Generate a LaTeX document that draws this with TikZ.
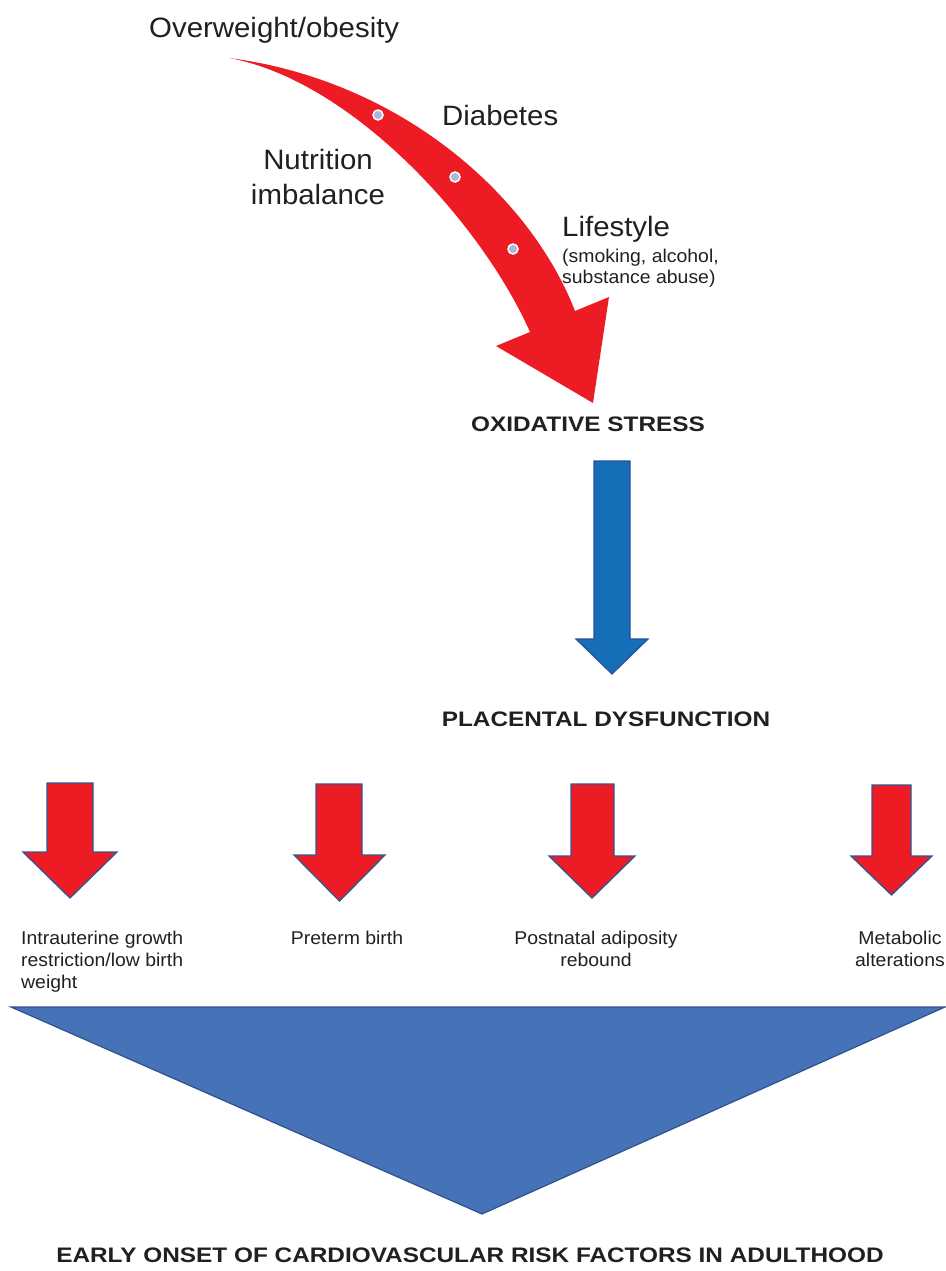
\documentclass[tikz,border=0pt]{standalone}
\usepackage{fontspec}
\setmainfont{Liberation Sans}
\newfontfamily\rfont[FakeStretch=1.05]{Liberation Sans}
\newfontfamily\hfont[FakeStretch=1.16]{Liberation Sans}
\definecolor{redc}{RGB}{237,28,36}
\definecolor{outl}{RGB}{47,85,151}
\definecolor{bluef}{RGB}{22,110,184}
\definecolor{bluel}{RGB}{40,80,150}
\definecolor{trif}{RGB}{70,114,184}
\definecolor{tril}{RGB}{47,82,143}
\definecolor{dotc}{RGB}{170,183,219}
\definecolor{txtc}{RGB}{35,31,32}
\begin{document}
\begin{tikzpicture}[x=1pt,y=-1pt,
  big/.style={inner sep=0pt, text=txtc, font=\rfont\fontsize{28}{35}\selectfont},
  mid/.style={inner sep=0pt, text=txtc, font=\rfont\fontsize{18.5}{20.5}\selectfont},
  small/.style={inner sep=0pt, text=txtc, font=\rfont\fontsize{18.5}{22.3}\selectfont},
  head/.style={inner sep=0pt, text=txtc, font=\hfont\bfseries\fontsize{21}{25}\selectfont},
  redarrow/.style={fill=redc, draw=outl, line width=1.3pt, line join=miter},
  dot/.style={fill=dotc, draw=white, line width=1.5pt}]
\useasboundingbox (0,0) rectangle (945,1271);
\newcommand\blockarr[7]{%
  \filldraw[redarrow] (#1,#3) -- (#2,#3) -- (#2,#4) -- (#6,#4) -- ({(#5+#6)/2},#7) -- (#5,#4) -- (#1,#4) -- cycle;}
% curved red arrow
\fill[redc] (229,58) .. controls (400,80) and (530,195) .. (575,311)
  -- (609,297) -- (593,403) -- (496,346) -- (530,332)
  .. controls (480,220) and (350,80) .. (229,58) -- cycle;
\filldraw[dot] (378,115) circle (5);
\filldraw[dot] (455,177) circle (5);
\filldraw[dot] (513,249) circle (5);
% texts top
\node[big, anchor=base west] (ow) at (149,38) {Overweight/obesity};
\node[big, anchor=base west] (db) at (442,125) {Diabetes};
\node[big, anchor=base, align=center] (ni) at (318,204) {Nutrition\\imbalance};
\node[big, anchor=base west] (ls) at (562,236) {Lifestyle};
\node[mid, anchor=base west, align=left] (lsd) at (562,283) {(smoking, alcohol,\\substance abuse)};
% headings
\node[head, anchor=base] (ox) at (588,431) {OXIDATIVE STRESS};
\filldraw[fill=bluef, draw=bluel, line width=1.2pt] (594,461) -- (630,461) -- (630,639) -- (648,639) -- (612,674) -- (576,639) -- (594,639) -- cycle;
\node[head, anchor=base] (pd) at (606,726) {PLACENTAL DYSFUNCTION};
% small arrows
\blockarr{47}{93}{783}{852}{23}{117}{898}
\blockarr{316}{362}{784}{855}{294}{385}{901}
\blockarr{571}{614}{784}{856}{549}{635}{898}
\blockarr{872}{911}{785}{856}{851}{932}{895}
% outcome texts
\node[small, anchor=base west, align=left] (iu) at (21,988.6) {Intrauterine growth\\restriction/low birth\\weight};
\node[small, anchor=base] (pb) at (347,944) {Preterm birth};
\node[small, anchor=base, align=center] (pa) at (596,966.3) {Postnatal adiposity\\rebound};
\node[small, anchor=base east, align=center] (ma) at (945,966.3) {Metabolic\\alterations};
% big triangle
\filldraw[fill=trif, draw=tril, line width=1.2pt] (11,1007) -- (945,1007) -- (482,1214) -- cycle;
\node[head, anchor=base] (eo) at (470,1262) {EARLY ONSET OF CARDIOVASCULAR RISK FACTORS IN ADULTHOOD};
\end{tikzpicture}
\end{document}
